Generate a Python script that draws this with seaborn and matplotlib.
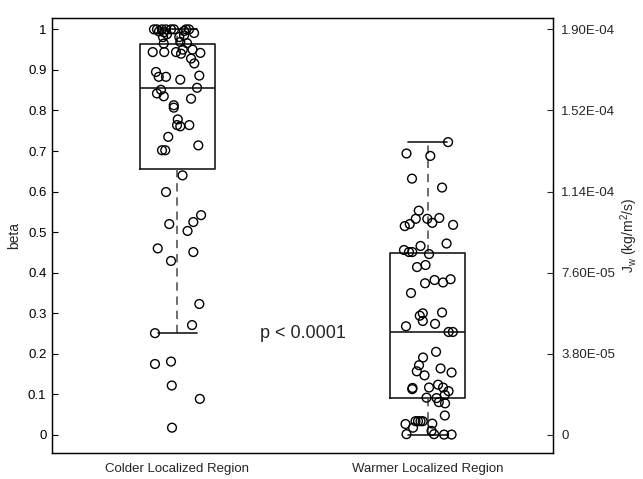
import numpy as np
import pandas as pd
import matplotlib
matplotlib.use("Agg")
import matplotlib.pyplot as plt
import seaborn as sns

# ---------------- data ----------------
categories = ["Colder Localized Region", "Warmer Localized Region"]

colder_beta = [1.00, 1.00, 1.00, 1.00, 1.00, 1.00, 1.00, 1.00,
               0.995, 0.993, 0.996, 0.991, 0.988,
               0.981, 0.981, 0.985, 0.965, 0.969, 0.966,
               0.944, 0.944, 0.944, 0.950, 0.950, 0.942,
               0.940, 0.928, 0.916, 0.895,
               0.883, 0.883, 0.886, 0.876, 0.851, 0.856, 0.842, 0.835, 0.829,
               0.813, 0.807, 0.778, 0.764, 0.761, 0.764, 0.735, 0.714,
               0.702, 0.702, 0.640, 0.599, 0.520, 0.503, 0.525, 0.542,
               0.460, 0.451, 0.429, 0.323, 0.271, 0.251, 0.181, 0.175,
               0.122, 0.089, 0.018]
colder_jitter = [-0.093, -0.081, -0.061, -0.045, -0.025, -0.013, 0.035, 0.047,
                 -0.073, -0.053, 0.027, 0.067, -0.041,
                 -0.057, 0.008, 0.027, -0.054, 0.012, 0.039,
                 -0.098, -0.052, -0.005, 0.022, 0.061, 0.092,
                 0.015, 0.055, 0.068, -0.085,
                 -0.074, -0.045, 0.088, 0.012, -0.065, 0.079, -0.081, -0.054, 0.055,
                 -0.014, -0.014, 0.002, -0.001, 0.012, 0.048, -0.036, 0.084,
                 -0.061, -0.048, 0.021, -0.045, -0.032, 0.041, 0.064, 0.095,
                 -0.078, 0.064, -0.025, 0.088, 0.059, -0.089, -0.025, -0.089,
                 -0.022, 0.090, -0.021]

warmer_beta = [0.722, 0.694, 0.688, 0.632, 0.610, 0.553, 0.533, 0.515, 0.520,
               0.533, 0.523, 0.535, 0.518, 0.472, 0.466, 0.456, 0.451, 0.451,
               0.446, 0.414, 0.419, 0.374, 0.382, 0.376, 0.384, 0.350, 0.294,
               0.300, 0.281, 0.302, 0.274, 0.268, 0.254, 0.254, 0.205, 0.191,
               0.172, 0.157, 0.147, 0.164, 0.154, 0.113, 0.116, 0.117, 0.124,
               0.117, 0.108, 0.099, 0.091, 0.092, 0.081, 0.078, 0.048, 0.027,
               0.034, 0.034, 0.034, 0.034, 0.028, 0.018, 0.002, 0.010, 0.002,
               0.001, 0.001]
warmer_jitter = [0.081, -0.085, 0.010, -0.063, 0.057, -0.036, -0.048, -0.092, -0.072,
                 -0.002, 0.018, 0.046, 0.101, 0.075, -0.029, -0.095, -0.075, -0.062,
                 0.005, -0.043, -0.009, -0.011, 0.027, 0.061, 0.091, -0.067, -0.032,
                 -0.020, -0.020, 0.057, 0.029, -0.087, 0.083, 0.100, 0.033, -0.019,
                 -0.035, -0.044, -0.013, 0.051, 0.095, -0.062, -0.061, 0.005, 0.041,
                 0.061, 0.083, 0.068, 0.035, -0.005, 0.044, 0.069, 0.068, -0.089,
                 -0.049, -0.039, -0.029, -0.020, 0.018, -0.059, -0.085, 0.015, 0.025,
                 0.065, 0.095]

box_q1 = [0.655, 0.092]
box_median = [0.856, 0.255]
box_q3 = [0.963, 0.448]
whisker_low = [0.251, 0.0]
whisker_high = [1.0, 0.722]

left_ticks = [0.0, 0.1, 0.2, 0.3, 0.4, 0.5, 0.6, 0.7, 0.8, 0.9, 1.0]
left_tick_labels = ["0", "0.1", "0.2", "0.3", "0.4", "0.5", "0.6", "0.7", "0.8", "0.9", "1"]
right_ticks = [0.0, 0.2, 0.4, 0.6, 0.8, 1.0]
right_tick_labels = ["0", "3.80E-05", "7.60E-05", "1.14E-04", "1.52E-04", "1.90E-04"]
left_label = "beta"
right_label = r"J$_w$ (kg/m$^2$/s)"
p_text = "p < 0.0001"

# ---------------- style ----------------
sns.set_style("white")
plt.rcParams["font.family"] = ["Liberation Sans", "DejaVu Sans"]
plt.rcParams["mathtext.fontset"] = "custom"
plt.rcParams["mathtext.rm"] = "Liberation Sans"
plt.rcParams["mathtext.it"] = "Liberation Sans"

fig = plt.figure(figsize=(6.43, 4.79), dpi=100)
ax = fig.add_axes([0.0809, 0.0543, 0.7792, 0.9081])

dark = "#1a1a1a"
stats = []
for i, c in enumerate(categories):
    stats.append(dict(label=c, q1=box_q1[i], med=box_median[i], q3=box_q3[i],
                      whislo=whisker_low[i], whishi=whisker_high[i], fliers=[]))
ax.bxp(stats, positions=[0, 1], widths=0.30, capwidths=0.155, showfliers=False,
       manage_ticks=False,
       boxprops=dict(color=dark, linewidth=1.2),
       whiskerprops=dict(color="#555555", linewidth=1.2, linestyle=(0, (5, 3.5))),
       capprops=dict(color=dark, linewidth=1.2),
       medianprops=dict(color=dark, linewidth=1.2))

df = pd.DataFrame({
    "x": [0 + j for j in colder_jitter] + [1 + j for j in warmer_jitter],
    "beta": colder_beta + warmer_beta,
})
sns.scatterplot(data=df, x="x", y="beta", ax=ax, marker="o", s=40,
                facecolor="none", edgecolor="black", linewidth=1.0, zorder=3)

ax.set_xlim(-0.5, 1.5)
ax.set_ylim(-0.0444, 1.028)
ax.set_xticks([0, 1])
ax.set_xticklabels(categories, fontsize=9.5)
ax.set_yticks(left_ticks)
ax.set_yticklabels(left_tick_labels, fontsize=9.5)
ax.set_xlabel("")
ax.set_ylabel(left_label, fontsize=10, labelpad=5)
ax.tick_params(axis="x", length=0, pad=7)
ax.tick_params(axis="y", direction="in", length=4, width=0.8, pad=4, colors="black")

ax.text(0.5, 0.25, p_text, fontsize=13, ha="center", va="center")

ax2 = ax.twinx()
ax2.set_ylim(ax.get_ylim())
ax2.set_yticks(right_ticks)
ax2.set_yticklabels(right_tick_labels, fontsize=9.5)
ax2.tick_params(axis="y", direction="in", length=4, width=0.8, pad=6)
ax2.set_ylabel(right_label, fontsize=10, labelpad=2)

for a in (ax, ax2):
    for s in a.spines.values():
        s.set_visible(True)
        s.set_color("black")
        s.set_linewidth(0.9)

fig.savefig("out.png", dpi=100)
